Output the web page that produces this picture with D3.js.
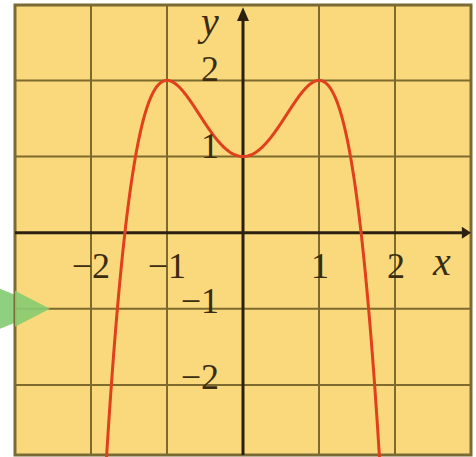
<!DOCTYPE html>
<html><head><meta charset="utf-8">
<script src="https://cdn.jsdelivr.net/npm/d3@7"></script>
<style>html,body{margin:0;padding:0;background:#fff;}svg{display:block;}</style>
</head><body>
<svg id="c" width="476" height="457"></svg>
<script>
const curveX = [];
for (let i = -180; i <= 180; i++) curveX.push(i / 100);
const curveY = curveX.map(x => -Math.pow(x, 4) + 2 * x * x + 1);
const xTicks = [-2, -1, 1, 2];
const yTicks = [2, 1, -1, -2];
const xTickLabels = ["\u22122", "\u22121", "1", "2"];
const yTickLabels = ["2", "1", "\u22121", "\u22122"];
const gridX = [-2, -1, 1, 2];
const gridY = [2, 1, -1, -2];
const xDomain = [-3, 3];
const yDomain = [-2.92, 2.99];

const svg = d3.select("#c");
const x = d3.scaleLinear().domain(xDomain).range([15, 471]);
const y = d3.scaleLinear().domain(yDomain).range([455, 5]);

// decorative green arrow on the left margin
svg.append("path")
  .attr("d", `M0,${y(-1)-20} L${x(-2.54)},${y(-1)} L0,${y(-1)+20} Z`)
  .attr("fill", "#8fd080");

svg.append("rect")
  .attr("x", x(-3)).attr("y", y(2.99))
  .attr("width", x(3) - x(-3)).attr("height", y(-2.92) - y(2.99))
  .attr("fill", "#fad97c");

// faint re-drawn ghost lines
const grid = svg.append("g");
grid.selectAll("line.gx").data(gridX).join("line")
  .attr("x1", d => x(d)).attr("x2", d => x(d))
  .attr("y1", y(2.99)).attr("y2", y(-2.92))
  .attr("stroke", "#7d6a2c").attr("stroke-width", 2);
grid.selectAll("line.gy").data(gridY).join("line")
  .attr("y1", d => y(d)).attr("y2", d => y(d))
  .attr("x1", x(-3)).attr("x2", x(3))
  .attr("stroke", "#7d6a2c").attr("stroke-width", 2);

// the border
svg.append("rect")
  .attr("x", x(-3)).attr("y", y(2.99))
  .attr("width", x(3) - x(-3)).attr("height", y(-2.92) - y(2.99))
  .attr("fill", "none").attr("stroke", "#7a6a34").attr("stroke-width", 3);

// green arrow overlapping plot (semi)
svg.append("path")
  .attr("d", `M${x(-3)},${y(-1)-18} L${x(-2.54)},${y(-1)} L${x(-3)},${y(-1)+18} Z`)
  .attr("fill", "#86cc70").attr("opacity", 0.9);

// axes
svg.append("line")
  .attr("x1", x(-3)).attr("x2", x(2.93))
  .attr("y1", y(0)).attr("y2", y(0))
  .attr("stroke", "#2b2010").attr("stroke-width", 3);
svg.append("line")
  .attr("x1", x(0)).attr("x2", x(0))
  .attr("y1", y(-2.92)).attr("y2", y(2.85))
  .attr("stroke", "#2b2010").attr("stroke-width", 3);
svg.append("path")
  .attr("d", `M${x(2.88)},${y(0)-6} L${x(3)},${y(0)} L${x(2.88)},${y(0)+6} Z`)
  .attr("fill", "#2b2010");
svg.append("path")
  .attr("d", `M${x(0)-6},${y(2.78)} L${x(0)},${y(2.96)} L${x(0)+6},${y(2.78)} Z`)
  .attr("fill", "#2b2010");

// curve
const line = d3.line().x((d, i) => x(curveX[i])).y(d => y(d));
svg.append("path")
  .datum(curveY)
  .attr("d", line)
  .attr("fill", "none")
  .attr("stroke", "#e0401c")
  .attr("stroke-width", 3);

// labels
const font = "'Liberation Serif', 'Times New Roman', serif";
svg.selectAll("text.xl").data(xTicks).join("text")
  .attr("x", d => x(d) + (d < 0 ? 19 : 10))
  .attr("y", y(0) + 45)
  .attr("text-anchor", "end")
  .attr("font-family", font).attr("font-size", 36)
  .attr("fill", "#3a2c10")
  .text((d, i) => xTickLabels[i]);
svg.selectAll("text.yl").data(yTicks).join("text")
  .attr("x", x(0) - 24)
  .attr("y", d => y(d) + (d > 0 ? 1 : 4))
  .attr("text-anchor", "end")
  .attr("font-family", font).attr("font-size", 36)
  .attr("fill", "#3a2c10")
  .text((d, i) => yTickLabels[i]);
svg.append("text")
  .attr("x", x(0) - 42).attr("y", y(2.6))
  .attr("font-family", font).attr("font-size", 40).attr("font-style", "italic")
  .attr("fill", "#3a2c10").text("y");
svg.append("text")
  .attr("x", x(2.5)).attr("y", y(0) + 42)
  .attr("font-family", font).attr("font-size", 40).attr("font-style", "italic")
  .attr("fill", "#3a2c10").text("x");
</script>
</body></html>
